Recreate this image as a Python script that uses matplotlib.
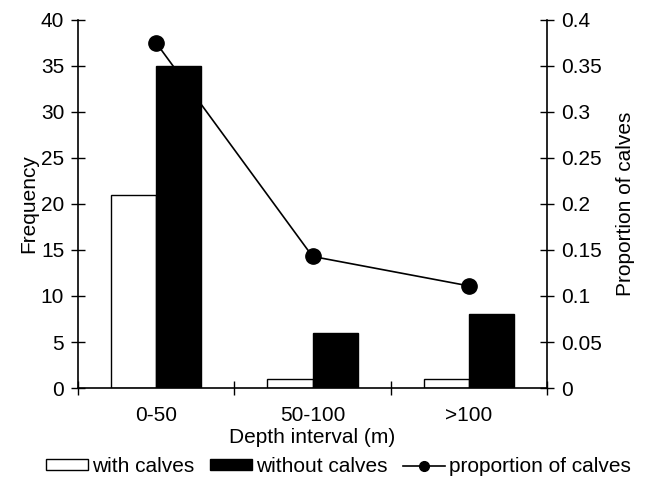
import matplotlib
matplotlib.use("Agg")
import matplotlib.pyplot as plt
from matplotlib.lines import Line2D
from matplotlib.patches import Patch
import numpy as np

categories = ["0-50", "50-100", ">100"]
with_calves = [21, 1, 1]
without_calves = [35, 6, 8]
proportion = [0.375, 0.143, 0.111]

plt.rcParams['font.family'] = ['Liberation Sans', 'DejaVu Sans']
plt.rcParams['font.size'] = 15

fig = plt.figure(figsize=(6.45, 4.86), dpi=100)
ax = fig.add_axes([0.121, 0.2016, 0.727, 0.7574])
x = np.arange(len(categories))
w = 0.288
ax.bar(x - w / 2, with_calves, width=w, color="white", edgecolor="black", linewidth=1.0)
ax.bar(x + w / 2, without_calves, width=w, color="black", edgecolor="black", linewidth=1.0)
ax.set_xlim(-0.5, 2.5)
ax.set_ylim(0, 40)
ax.set_yticks(range(0, 41, 5))
ax.set_xticks(x)
ax.set_xticklabels(categories)
ax.tick_params(axis='x', which='major', length=0, pad=13)
ax.set_xticks([-0.5, 0.5, 1.5, 2.5], minor=True)
ax.tick_params(axis='x', which='minor', direction='inout', length=10, width=1)
ax.tick_params(axis='y', direction='inout', length=10, width=1, pad=5)
ax.spines['top'].set_visible(False)
ax.spines['right'].set_visible(False)
for s in ['left', 'bottom']:
    ax.spines[s].set_linewidth(1.2)
ax.set_ylabel("Frequency", labelpad=2)
ax.set_xlabel("Depth interval (m)", labelpad=2)

ax2 = ax.twinx()
ax2.plot(x, proportion, color="black", linewidth=1.2, marker="o", markersize=11, zorder=5)
ax2.set_ylim(0, 0.4)
ax2.set_yticks([0, 0.05, 0.1, 0.15, 0.2, 0.25, 0.3, 0.35, 0.4])
ax2.set_yticklabels(["0", "0.05", "0.1", "0.15", "0.2", "0.25", "0.3", "0.35", "0.4"])
ax2.tick_params(axis='y', direction='inout', length=10, width=1, pad=5)
ax2.spines['top'].set_visible(False)
ax2.spines['left'].set_visible(False)
ax2.spines['bottom'].set_visible(False)
ax2.spines['right'].set_linewidth(1.2)
ax2.set_ylabel("Proportion of calves", labelpad=10)

handles = [
    Patch(facecolor="white", edgecolor="black", linewidth=1.0),
    Patch(facecolor="black", edgecolor="black", linewidth=1.0),
    Line2D([0], [0], color="black", linewidth=1.2, marker="o", markersize=7),
]
labels = ["with calves", "without calves", "proportion of calves"]
fig.legend(handles, labels, loc="center", bbox_to_anchor=(0.525, 0.04), ncol=3,
           frameon=False, handlelength=2.0, handleheight=0.45, handletextpad=0.2,
           columnspacing=0.75, fontsize=15, borderpad=0.1)

fig.savefig("out.png", dpi=100)
